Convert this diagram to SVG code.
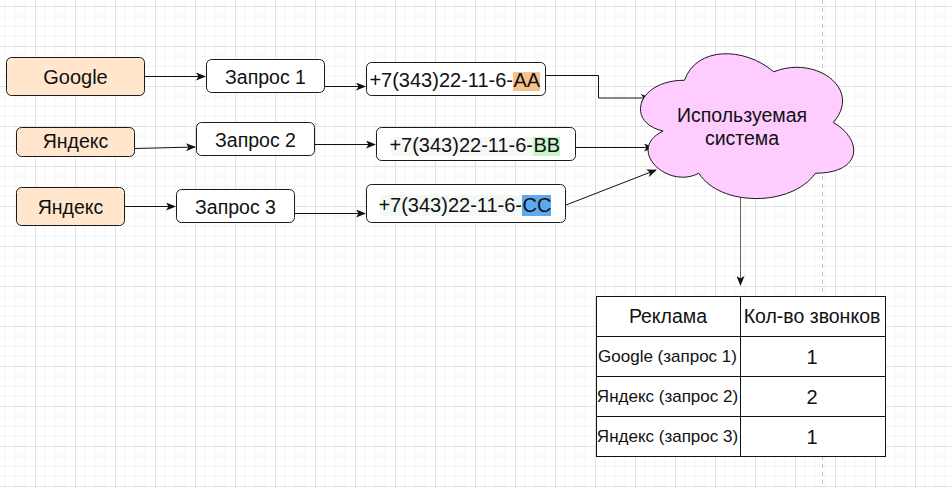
<svg xmlns="http://www.w3.org/2000/svg" width="952" height="488" viewBox="0 0 952 488">
<defs>
<pattern id="grid" x="35" y="6" width="40" height="40" patternUnits="userSpaceOnUse">
<path d="M10 0V40M20 0V40M30 0V40M0 10H40M0 20H40M0 30H40" fill="none" stroke="#f4f4f4" stroke-width="1"/>
<path d="M0.5 0V40M0 0.5H40" fill="none" stroke="#e2e2e2" stroke-width="1"/>
</pattern>
<marker id="arr" viewBox="0 0 10 8" refX="9" refY="4" markerWidth="10" markerHeight="8" markerUnits="userSpaceOnUse" orient="auto">
<path d="M0,0 L10,4 L0,8 L2.5,4 Z" fill="#111"/>
</marker>
</defs>
<style>
.t{font-family:"Liberation Sans",Arial,sans-serif;fill:#111;}
.n{fill:#ffffff;stroke:#1a1a1a;stroke-width:1;}
.s{fill:#ffe6cc;stroke:#1a1a1a;stroke-width:1;}
.c{fill:none;stroke:#111;stroke-width:1;marker-end:url(#arr);}
.tb{fill:#ffffff;stroke:#111;stroke-width:1;}
</style>
<rect width="952" height="488" fill="#ffffff"/>
<rect width="952" height="488" fill="url(#grid)"/>
<line x1="822.5" y1="0" x2="822.5" y2="488" stroke="#c4c4c4" stroke-width="1" stroke-dasharray="4 4"/>

<g id="connectors">
<path class="c" d="M145 76.5H205"/>
<path class="c" d="M325 86.5H365"/>
<path class="c" d="M135 148.5L195 147"/>
<path class="c" d="M315 144.5H375"/>
<path class="c" d="M125 206.5H175"/>
<path class="c" d="M295 213.5H365"/>
<path class="c" d="M546 75.5H598.5V98H650"/>
<path class="c" d="M576 147.5H653"/>
<path class="c" d="M566 205L656 170"/>
<path class="c" d="M740.5 198V285" style="stroke:#666"/>
</g>

<g id="google">
<rect class="s" x="6.5" y="57.5" width="138" height="38" rx="5"/>
<text class="t" x="75.5" y="84" font-size="20" text-anchor="middle">Google</text>
</g>
<g id="yandex1">
<rect class="s" x="16.5" y="127.5" width="118" height="29" rx="5"/>
<text class="t" x="75.5" y="148" font-size="19.5" text-anchor="middle">Яндекс</text>
</g>
<g id="yandex2">
<rect class="s" x="16.5" y="187.5" width="108" height="38" rx="5"/>
<text class="t" x="70.5" y="214" font-size="19.5" text-anchor="middle">Яндекс</text>
</g>

<g id="zapros1">
<rect class="n" x="206.5" y="59.5" width="118" height="33" rx="5"/>
<text class="t" x="265.5" y="84" font-size="19.5" text-anchor="middle">Запрос 1</text>
</g>
<g id="zapros2">
<rect class="n" x="196.5" y="122.5" width="118" height="33" rx="5"/>
<text class="t" x="255.5" y="147" font-size="19.5" text-anchor="middle">Запрос 2</text>
</g>
<g id="zapros3">
<rect class="n" x="176.5" y="189.5" width="118" height="33" rx="5"/>
<text class="t" x="235.5" y="214" font-size="19.5" text-anchor="middle">Запрос 3</text>
</g>

<g id="phoneAA">
<rect class="n" x="366.5" y="62.5" width="179" height="33" rx="5"/>
<rect x="513" y="72" width="27" height="19" fill="#fac18f"/>
<text class="t" x="513" y="87" font-size="20" text-anchor="end">+7(343)22-11-6-</text>
<text class="t" x="513.5" y="87" font-size="20">AA</text>
</g>
<g id="phoneBB">
<rect class="n" x="376.5" y="127.5" width="199" height="33" rx="5"/>
<rect x="391" y="137" width="142" height="19" fill="#f6f8f6"/>
<rect x="533" y="137" width="27" height="19" fill="#c9f4c9"/>
<text class="t" x="533" y="152" font-size="20" text-anchor="end">+7(343)22-11-6-</text>
<text class="t" x="533.5" y="152" font-size="20">BB</text>
</g>
<g id="phoneCC">
<rect class="n" x="366.5" y="184.5" width="199" height="38" rx="5"/>
<rect x="380" y="195" width="142" height="21" fill="#f5f9f5"/>
<rect x="522" y="195" width="29" height="21" fill="#5ca9f0"/>
<text class="t" x="522" y="212" font-size="20" text-anchor="end">+7(343)22-11-6-</text>
<text class="t" x="522.5" y="212" font-size="20">CC</text>
</g>

<g id="cloud">
<path d="M684.5 80.25C636.9 80.25 625 122.5 663.1 131C625 149.5 667.8 190.1 698.8 173.2C720.2 207 791.6 207 815.4 173.2C863 173.2 863 139.4 833.25 122.5C863 88.7 815.4 54.9 773.75 71.8C744 46.45 696.4 46.45 684.5 80.25Z" fill="#ffccff" stroke="#1a1a1a" stroke-width="1"/>
<text class="t" x="742" y="122" font-size="19.5" text-anchor="middle">Используемая</text>
<text class="t" x="742" y="145" font-size="19.5" text-anchor="middle">система</text>
</g>

<g id="table">
<rect class="tb" x="596.5" y="296.5" width="289" height="160"/>
<path d="M740.5 296.5V456.5M596.5 336.5H885.5M596.5 376.5H885.5M596.5 416.5H885.5" stroke="#111" stroke-width="1" fill="none"/>
<text class="t" x="668" y="323" font-size="19.5" text-anchor="middle">Реклама</text>
<text class="t" x="812" y="323" font-size="19.5" text-anchor="middle">Кол-во звонков</text>
<text class="t" x="667.5" y="362" font-size="17" text-anchor="middle">Google (запрос 1)</text>
<text class="t" x="667.5" y="402" font-size="17" text-anchor="middle">Яндекс (запрос 2)</text>
<text class="t" x="667.5" y="442" font-size="17" text-anchor="middle">Яндекс (запрос 3)</text>
<text class="t" x="812" y="364" font-size="20" text-anchor="middle">1</text>
<text class="t" x="812" y="404" font-size="20" text-anchor="middle">2</text>
<text class="t" x="812" y="444" font-size="20" text-anchor="middle">1</text>
</g>
</svg>
